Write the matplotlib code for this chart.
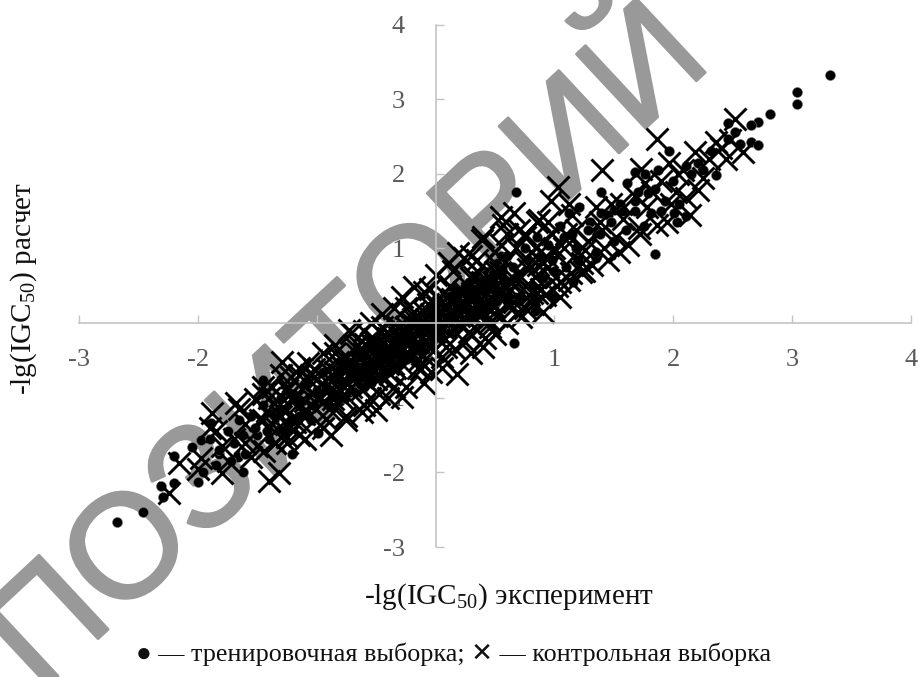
import matplotlib
matplotlib.use("Agg")
import matplotlib.pyplot as plt
import matplotlib.patheffects as pe

plt.rcParams['font.family'] = ['Liberation Serif', 'DejaVu Sans']
plt.rcParams['mathtext.fontset'] = 'custom'
plt.rcParams['mathtext.rm'] = 'Liberation Serif'
plt.rcParams['axes.unicode_minus'] = False

train_x = [3.32,3.04,3.04,2.81,2.71,2.65,2.46,2.52,2.65,2.71,2.56,2.46,2.36,1.96,1.85,0.68,1.39,1.0,0.84,0.84,
           2.03,2.11,2.01,1.81,1.16,1.61,1.87,2.11,2.21,2.32,1.68,1.76,1.21,1.12,1.39,1.5,1.68,1.79,1.93,1.35,1.35,
           -2.68,-2.46,-2.31,-2.2,-2.29,-2.2,-2.05,-2.0,-1.96,-1.97,-1.82,-1.62,-1.21,-0.99,-1.45,-1.89,-1.66,0.66,
           -1.9,-1.85,-1.75,-1.7,-1.65,-1.6,-1.55,-1.5,-1.45,-1.4,-1.35,-1.3,-1.25,-1.2,-1.15,-1.1,-1.05,-1.0,-0.95,-0.9,
           -0.85,-0.8,-0.75,-0.7,-0.65,-0.6,-0.55,-0.5,-0.45,-0.4,-0.35,-0.3,-0.25,-0.2,-0.15,-0.1,-0.05,0.0,0.05,0.1,
           0.15,0.2,0.25,0.3,0.35,0.4,0.45,0.5,0.55,0.6,0.65,0.7,0.75,0.8,0.85,0.9,0.95,1.0,1.05,1.1,
           1.15,1.2,1.3,1.35,1.45,1.5,1.55,1.6,1.7,1.75,1.85,1.9,2.0,2.05,2.15,2.25]
train_y = [3.33,3.09,2.94,2.80,2.70,2.65,2.68,2.56,2.42,2.38,2.40,2.47,1.99,2.31,0.93,1.75,1.76,0.35,0.31,0.16,
           1.35,1.43,1.47,1.47,0.55,1.87,2.05,2.11,2.15,2.31,2.02,2.0,1.56,1.48,1.48,1.51,1.64,1.74,1.64,1.22,0.87,
           -2.66,-2.53,-2.18,-2.14,-2.33,-1.78,-1.66,-2.13,-1.99,-1.57,-1.76,-1.99,-1.76,-1.47,-0.76,-1.34,-1.79,-0.27,
           -1.55,-1.9,-1.45,-1.6,-1.3,-1.75,-1.25,-1.5,-1.1,-1.55,-1.2,-1.0,-1.45,-0.95,-1.25,-0.8,-1.3,-0.9,-0.65,-1.1,
           -0.75,-1.05,-0.55,-0.9,-0.5,-0.8,-0.35,-0.7,-0.3,-0.6,-0.2,-0.5,-0.1,-0.4,0.05,-0.3,0.2,-0.2,0.3,-0.1,
           0.45,0.0,0.5,0.1,0.65,0.15,0.7,0.25,0.9,0.3,0.75,0.35,1.0,0.5,1.15,0.6,1.05,0.7,1.3,0.75,
           1.2,0.85,1.35,0.95,1.45,1.1,1.6,1.25,1.75,1.3,1.8,1.5,1.9,1.6,2.0,2.05]
train_band_x = [-1.82,-1.72,-1.62,-1.52,-1.42,-1.32,-1.22,-1.12,-1.02,-0.92,-0.82,-0.72,-0.62,-0.52,-0.42,-0.32,-0.22,-0.12,
                -0.02,0.08,0.18,0.28,0.38,0.48,0.58,0.68,0.78,0.88,0.98,1.08,1.18,1.28,1.38,1.48,1.58,1.68]
train_band_y = [-1.7,-1.85,-1.5,-1.4,-1.45,-1.15,-1.3,-1.05,-1.1,-0.85,-0.95,-0.7,-0.6,-0.5,-0.45,-0.35,-0.15,-0.05,
                0.0,0.12,0.2,0.32,0.4,0.45,0.55,0.6,0.85,0.9,0.85,1.15,1.0,1.25,1.2,1.35,1.5,1.5]
train_core_x = [-0.80,-0.76,-0.72,-0.68,-0.64,-0.60,-0.56,-0.52,-0.48,-0.44,-0.40,-0.36,-0.32,-0.28,-0.24,-0.20,-0.16,-0.12,
                -0.08,-0.04,0.00,0.04,0.08,0.12,0.16,0.20,0.24,0.28,0.32,0.36,0.40,0.44,0.48,0.52,0.56,0.60,
                -0.80,-0.76,-0.72,-0.68,-0.64,-0.60,-0.56,-0.52,-0.48,-0.44,-0.40,-0.36,-0.32,-0.28,-0.24,-0.20,-0.16,-0.12,
                -0.08,-0.04,0.00,0.04,0.08,0.12,0.16,0.20,0.24,0.28,0.32,0.36,0.40,0.44,0.48,0.52,0.56,0.60,
                -0.78,-0.7,-0.62,-0.54,-0.46,-0.38,-0.3,-0.22,-0.14,-0.06,0.02,0.1,0.18,0.26,0.34,0.42,0.5,0.58]
train_core_y = [-0.62,-0.5,-0.58,-0.42,-0.46,-0.38,-0.34,-0.36,-0.24,-0.28,-0.18,-0.14,-0.16,-0.05,-0.08,0.02,0.06,0.02,
                0.14,0.12,0.2,0.28,0.22,0.36,0.3,0.42,0.4,0.55,0.46,0.62,0.58,0.68,0.66,0.8,0.72,0.9,
                -1.0,-1.0,-0.92,-0.92,-0.82,-0.85,-0.76,-0.72,-0.72,-0.62,-0.65,-0.55,-0.58,-0.48,-0.48,-0.42,-0.36,-0.38,
                -0.28,-0.3,-0.2,-0.2,-0.12,-0.12,-0.06,-0.05,0.04,0.05,0.1,0.12,0.2,0.2,0.28,0.3,0.36,0.36,
                -0.8,-0.68,-0.64,-0.56,-0.44,-0.4,-0.28,-0.24,-0.12,-0.08,0.04,0.08,0.2,0.24,0.36,0.4,0.52,0.56]

test_x = [2.52,1.86,1.40,1.03,2.18,2.36,1.96,1.73,2.59,2.44,2.21,2.11,1.86,1.54,1.71,1.23,1.01,0.66,0.97,1.12,
          0.87,0.57,0.39,0.24,1.56,1.76,2.04,1.98,-1.40,-1.32,-2.24,-2.16,-1.97,-1.80,-0.88,-1.25,-0.28,-0.50,-0.62,-1.29,
          -1.68,-1.88,-0.71,-0.04,
          -1.9,-1.75,-1.65,-1.55,-1.45,-1.35,-1.25,-1.15,-1.05,-0.95,-0.85,-0.75,-0.65,-0.55,-0.45,-0.35,-0.25,-0.15,-0.05,0.05,
          0.15,0.25,0.35,0.45,0.55,0.65,0.75,0.85,0.95,1.05,1.15,1.25,1.35,1.45,
          -1.6,-1.4,-1.2,-1.0,-0.8,-0.6,-0.4,-0.2,0.0,0.2,0.4,0.6,0.8,1.0,1.2,1.4,
          -0.9,-0.7,-0.5,-0.3,-0.1,0.1,0.3,0.5,0.7,0.9,-0.3,-0.1,0.1,0.3,0.5]
test_y = [2.73,2.47,2.05,1.82,2.29,2.42,2.15,2.07,2.29,2.2,1.78,1.68,1.31,0.95,1.28,0.80,0.62,1.47,1.64,1.6,
          1.38,1.31,1.11,0.87,1.6,1.87,2.0,1.6,-2.11,-2.01,-2.28,-1.87,-1.81,-2.01,-1.5,-1.52,-0.99,-1.16,-1.19,-0.52,
          -1.07,-1.2,-0.13,-0.65,
          -1.4,-1.85,-1.15,-1.8,-0.95,-1.6,-0.9,-1.5,-0.7,-1.4,-0.4,-1.25,-0.3,-1.0,-0.05,-0.85,0.2,-0.6,0.45,-0.45,
          0.7,-0.25,0.85,0.0,1.05,0.2,1.2,0.4,1.35,0.55,1.45,0.7,1.55,0.85,
          -1.35,-1.0,-1.05,-0.75,-0.9,-0.7,-0.55,-0.45,-0.1,0.1,0.25,0.5,0.75,1.0,0.95,1.25,
          -1.15,-0.55,-0.75,-0.15,-0.25,0.35,0.1,0.8,0.65,1.1,-0.35,0.15,0.05,0.6,0.4]
test_band_x = [-1.52,-1.48,-1.44,-1.38,-1.33,-1.28,-1.22,-1.18,-1.12,-1.08,-1.02,-0.98,-0.92,-0.88,-0.82,-0.78,-0.72,-0.68,
               -0.62,-0.58,-0.52,-0.48,-0.42,-0.38,-0.32,-0.28,-0.22,-0.18,-0.12,-0.08,-0.02,0.02,0.08,0.12,0.18,0.22,
               0.28,0.32,0.38,0.42,0.48,0.52,0.58,0.62,0.68,0.72,0.78,0.82,0.88,0.92,0.98,1.02,1.08,1.12,
               1.18,1.22,1.28,1.32,1.38,1.42,1.48,1.52,1.58,1.62,1.68,1.72,1.78,1.82,1.9,1.95,2.02,2.08,2.14,2.25,2.3,2.4,2.48,
               -0.7,-0.65,-0.6,-0.55,-0.5,-0.45,-0.4,-0.35,-0.3,-0.25,-0.2,-0.15,-0.1,-0.05,0.0,0.05,0.1,0.15,0.2,0.25,0.3,0.35,0.4,0.45,0.5,
               -1.3,-1.2,-1.1,-1.0,-0.9,-0.85,-0.8,-0.75,-1.7,-1.6,-1.5,-1.45,-1.35,-1.8,-1.85,-2.0,-1.15,-1.25,-1.1]
test_band_y = [-1.02,-1.3,-1.72,-0.85,-1.42,-1.12,-0.72,-1.32,-0.88,-1.18,-0.62,-1.02,-1.28,-0.78,-0.52,-1.02,-0.72,-0.32,
               -0.88,-0.55,-0.22,-0.95,-0.42,-0.68,-0.05,-0.55,-0.28,0.15,-0.62,0.05,-0.38,0.32,-0.22,0.5,-0.68,0.18,
               -0.12,0.62,0.32,-0.2,0.55,0.1,0.82,0.42,1.0,0.08,0.72,0.25,0.95,0.38,1.2,0.5,1.0,0.58,
               1.25,0.68,1.1,0.78,1.35,1.0,1.6,1.15,1.4,1.05,1.7,1.2,1.55,1.75,1.9,1.35,1.75,2.05,1.45,1.95,2.2,2.35,2.45,
               -0.55,-0.7,-0.4,-0.6,-0.45,-0.55,-0.2,-0.4,-0.3,-0.05,-0.2,-0.25,-0.05,0.02,0.1,-0.05,0.2,0.1,0.35,0.25,0.3,0.15,0.45,0.3,0.5,
               -1.25,-1.0,-1.05,-1.0,-0.9,-0.65,-0.8,-0.8,-1.55,-1.6,-1.65,-1.3,-1.6,-1.65,-1.45,-1.95,-0.7,-1.6,-1.55]
test_core_x = [-1.42,-1.36,-1.31,-1.26,-1.21,-1.16,-1.11,-1.06,-1.01,-0.96,-0.91,-0.86,-0.81,-0.76,-0.71,-0.66,-0.61,-0.56,-0.51,-0.46,
               -0.41,-0.36,-0.31,-0.26,-0.21,-0.16,-0.11,-0.06,-0.01,0.04,0.09,0.14,0.19,0.24,0.29,0.34,0.39,0.44,0.49,0.54,
               0.59,0.64,0.69,0.74,0.79,0.84,0.89,0.94,
               -1.24,-1.14,-1.04,-0.94,-0.84,-0.74,-0.64,-0.54,-0.44,-0.34,-0.24,-0.14,-0.04,0.06,0.16,0.26,0.36,0.46,0.56,0.66,0.76,0.86,
               -0.78,-0.69,-0.59,-0.49,-0.39,-0.29,-0.19,-0.09,0.01,0.11,0.21,0.31,0.41,0.51,0.61,
               -0.57,-0.47,-0.37,-0.27,-0.17,-0.07,0.03,0.13,0.23,0.33,0.43]
test_core_y = [-1.18,-1.3,-0.98,-1.35,-0.92,-1.08,-1.22,-0.78,-1.15,-0.82,-0.62,-1.02,-0.68,-0.48,-0.85,-0.42,-0.62,-0.82,-0.3,-0.72,
               -0.12,-0.55,-0.18,-0.42,0.02,-0.12,-0.42,0.25,-0.12,0.12,-0.32,0.32,0.0,0.42,0.12,-0.08,0.55,0.05,0.22,0.68,
               0.25,0.55,0.15,0.85,0.38,0.62,0.45,0.88,
               -0.85,-1.32,-0.95,-1.05,-0.92,-0.62,-0.62,-0.28,-0.42,-0.6,-0.15,-0.5,0.12,0.22,-0.35,0.05,0.28,-0.05,0.35,0.28,0.5,0.78,
               -0.6,-0.72,-0.28,-0.58,-0.32,-0.22,0.05,-0.15,0.22,0.02,0.28,0.4,0.15,0.68,0.58,
               -0.45,-0.12,-0.28,-0.12,-0.35,-0.02,-0.02,0.28,-0.05,0.42,0.22]
test_edge_x = [0.40,0.11,-0.18,-0.28,-0.73,-0.54,-1.07,0.19,0.55,0.40,1.14,1.26,0.81,
               0.3,0.35,0.5,0.6,0.7,0.75,0.85,0.8,0.95,1.0,1.1,0.65,0.9,0.0,-0.1,-0.35,-0.45,-0.6,-0.85,-0.95,-1.15,-1.3,-1.45,
               0.05,-0.1,-0.25,-0.4,-0.6,-0.75,0.3,0.5,0.6,0.75,0.9,1.05]
test_edge_y = [1.15,0.80,0.48,0.35,-0.09,0.0,-0.53,0.94,1.42,-0.32,0.67,0.98,0.4,
               0.9,0.7,0.95,1.2,1.25,1.15,1.35,0.95,0.75,0.95,1.2,0.6,0.8,0.65,0.42,0.2,0.12,-0.1,-0.3,-0.4,-0.6,-0.7,-0.85,
               -0.6,-0.8,-0.85,-1.0,-1.1,-1.3,-0.4,-0.15,0.0,0.2,0.15,0.35]

x_ticks = [-3,-2,-1,0,1,2,3,4]
y_ticks = [-3,-2,-1,0,1,2,3,4]
x_label = r'-lg(IGC$_{\mathrm{50}}$) эксперимент'
y_label = r'-lg(IGC$_{\mathrm{50}}$) расчет'
caption = '● — тренировочная выборка; ✕ — контрольная выборка'
watermark = 'РЕПОЗИТОРИЙ'

W, H = 919, 677
fig = plt.figure(figsize=(W/100, H/100), dpi=100)
ax = fig.add_axes([79/W, 1-547/H, 832/W, 522.5/H], zorder=2)
ax.patch.set_visible(False)
ax.set_xlim(-3, 4)
ax.set_ylim(-3, 4)
for s in ('top', 'right'):
    ax.spines[s].set_visible(False)
for s in ('left', 'bottom'):
    ax.spines[s].set_position('zero')
    ax.spines[s].set_color('#c4c4c4')
    ax.spines[s].set_linewidth(1.2)
ax.set_xticks(x_ticks)
ax.set_yticks(y_ticks)
ax.tick_params(axis='x', direction='in', length=6, width=1.0, color='#c4c4c4',
               labelcolor='#595959', labelsize=19, pad=19)
ax.tick_params(axis='y', direction='in', length=6, width=1.0, color='#c4c4c4',
               labelcolor='#595959', labelsize=19, pad=22)

ax.plot(train_x + train_band_x + train_core_x, train_y + train_band_y + train_core_y, ls='none',
        marker='o', ms=7.2, color='black', mec='#777777', mew=0.4, clip_on=False)
ax.plot(test_x + test_band_x + test_core_x + test_edge_x, test_y + test_band_y + test_core_y + test_edge_y,
        ls='none', marker='x', ms=16, mew=2.1, color='black', clip_on=False)

fig.text(509/W, 1-597/H, x_label, ha='center', va='center', fontsize=21, color='#111111')
fig.text(24/W, 1-289/H, y_label, ha='center', va='center', rotation=90, fontsize=21, color='#111111')
fig.text(454/W, 1-654/H, caption, ha='center', va='center', fontsize=18.8, color='#111111')
fig.text(279/W, 1-418/H, watermark, ha='center', va='center', rotation=43, rotation_mode='anchor',
         fontsize=106, family='Liberation Sans', color='#999999', zorder=1,
         path_effects=[pe.withStroke(linewidth=2, foreground='#999999')])

fig.savefig('out.png', dpi=100)
